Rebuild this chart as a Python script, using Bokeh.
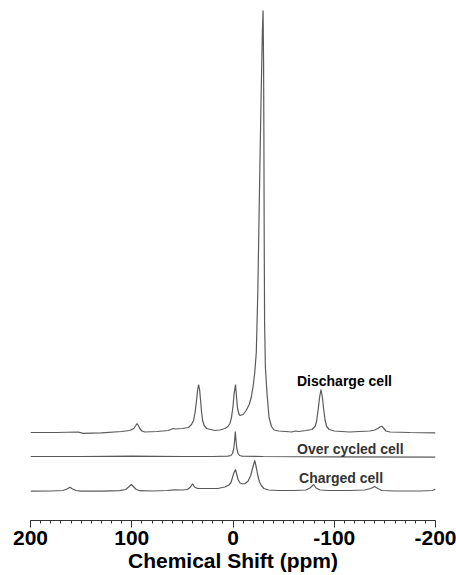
from bokeh.plotting import figure
from bokeh.models import Range1d, FixedTicker, ColumnDataSource
from bokeh.core.properties import value
from bokeh.embed import file_html
from bokeh.resources import INLINE

# ---- data (chemical shift in ppm, intensity in arbitrary units above each baseline) ----
discharge_ppm = [200, 175, 153, 148, 130, 110, 102, 98, 96, 94.8, 93.5, 92, 90, 87, 75, 64, 59, 57, 50, 44,
                 41, 39, 37.5, 36, 35, 34, 33, 32, 31, 30, 28.5, 26, 22, 18, 13, 8, 5, 3, 1.5, 0,
                 -1, -2.5, -3.5, -4.5, -6, -7, -10, -13, -16, -18, -20, -21.5, -23, -24.5, -26, -27.7, -29, -29.7,
                 -30.2, -30.5, -30.8, -31.2, -32, -33.6, -35.6, -38, -40.5, -45, -52, -58, -62, -65, -72, -78,
                 -81, -82.5, -84, -85.5, -86.9, -88.3, -89.7, -91, -92.5, -95, -100, -115, -135, -140, -143,
                 -145, -147, -149, -151, -155, -175, -200]
discharge_int = [0, 0, 0.5, -0.8, -0.3, 1, 2, 4, 7, 9, 7, 4, 1.5, 0.5, 1, 2, 4, 3.5, 4, 5,
                 8, 12, 20, 32, 42, 48, 43, 32, 20, 12, 7, 4, 3, 2, 2.5, 4, 6, 9, 15, 26,
                 38, 48, 35, 24, 18, 17, 18, 22, 28, 35, 47, 60, 80, 140, 232, 332, 400, 422,
                 370, 300, 200, 110, 65, 39, 15, 6, 2.5, 1.5, 1, 0.5, 1.5, 1, 2, 3,
                 6, 11, 22, 35, 43, 35, 22, 12, 6, 3, 1.5, 0.5, 1.5, 2.5, 4,
                 5.5, 6.3, 4, 1.5, 0.5, 0, -0.3]

overcycled_ppm = [200, 150, 100, 50, 20, 5, 2, 0.5, -0.8, -1.6, -2.3, -3, -3.8, -5, -6.5, -9, -30, -100, -200]
overcycled_int = [0, 0, 0.3, 0, 0, 0.3, 1, 3, 8, 16, 25, 16, 8, 3, 1, 0.3, 0, -0.3, -0.7]

charged_ppm = [200, 180, 168, 164, 161, 158.5, 155, 150, 130, 112, 106, 103, 100.5, 98, 95.5, 92, 80, 65, 58,
               50, 45, 42, 40, 38, 35, 25, 15, 8, 4, 2, 0.5, -1, -2.5, -3.5, -5, -7, -9.5, -12, -15,
               -17.5, -19.5, -21.5, -23, -24.5, -26, -28, -30.5, -35, -45, -60, -72, -76, -79.7, -82, -86,
               -95, -115, -130, -136, -140, -143, -147, -160, -185, -197, -200]
charged_int = [0.3, 0.5, 1, 2.5, 4.3, 2.5, 1, 0.3, 0.3, 0.8, 2, 4.5, 7, 4.5, 2, 0.8, 0.5, 1, 1.7,
               1.5, 2, 4.5, 7.7, 4.5, 3, 3, 3, 4.5, 6.5, 9, 14, 19, 22, 18, 12, 8.5, 7.5, 8, 10.5,
               16, 24, 31, 24, 16, 10, 6, 3, 1.5, 1, 1, 1.5, 3.5, 7, 3.5, 1.5,
               1, 1, 1.5, 3, 5, 3, 1, 0.5, 0.5, 1, 2.5]

trace_names = ["Discharge cell", "Over cycled cell", "Charged cell"]
trace_offsets = [88, 64, 29]

major_ticks = [200, 100, 0, -100, -200]
tick_labels = ["200", "100", "0", "-100", "-200"]
minor_ticks = list(range(200, -201, -10))

# ---- figure ----
p = figure(width=456, height=575, x_range=Range1d(200, -200), y_range=Range1d(0, 520),
           output_backend="svg", toolbar_location=None, y_axis_location=None,
           min_border_left=30, min_border_right=21, min_border_top=0, min_border_bottom=55)
p.xgrid.visible = False
p.ygrid.visible = False
p.outline_line_color = None

series = [(discharge_ppm, discharge_int), (overcycled_ppm, overcycled_int), (charged_ppm, charged_int)]
for (xs, ys), off in zip(series, trace_offsets):
    p.line(x=xs, y=[v + off for v in ys], line_color="#5a5a5a", line_width=1.2)

label_src = ColumnDataSource(dict(
    x=[-63.2, -63.2, -65.2],
    y=[140, 72, 43],
    text=trace_names,
    color=["#000000", "#333333", "#333333"],
))
p.text(x="x", y="y", text="text", source=label_src, text_color="color",
       text_font=value("Liberation Sans"), text_font_style="bold", text_font_size="14px",
       text_baseline="alphabetic", text_align="left")

ax = p.xaxis[0]
ax.ticker = FixedTicker(ticks=major_ticks, minor_ticks=minor_ticks)
ax.major_label_overrides = {float(t): l for t, l in zip(major_ticks, tick_labels)}
ax.major_label_text_font = "Liberation Sans"
ax.major_label_text_font_style = "bold"
ax.major_label_text_font_size = "21px"
ax.major_label_text_color = "#000000"
ax.major_label_standoff = 3
ax.axis_label = "Chemical Shift (ppm)"
ax.axis_label_text_font = "Liberation Sans"
ax.axis_label_text_font_style = "bold"
ax.axis_label_text_font_size = "21px"
ax.axis_label_text_color = "#000000"
ax.axis_label_standoff = 1
ax.axis_line_color = "#333333"
ax.major_tick_line_color = "#333333"
ax.minor_tick_line_color = "#333333"
ax.major_tick_in = 0
ax.major_tick_out = 7
ax.minor_tick_in = 0
ax.minor_tick_out = 3

open("out.html", "w").write(file_html(p, INLINE))
